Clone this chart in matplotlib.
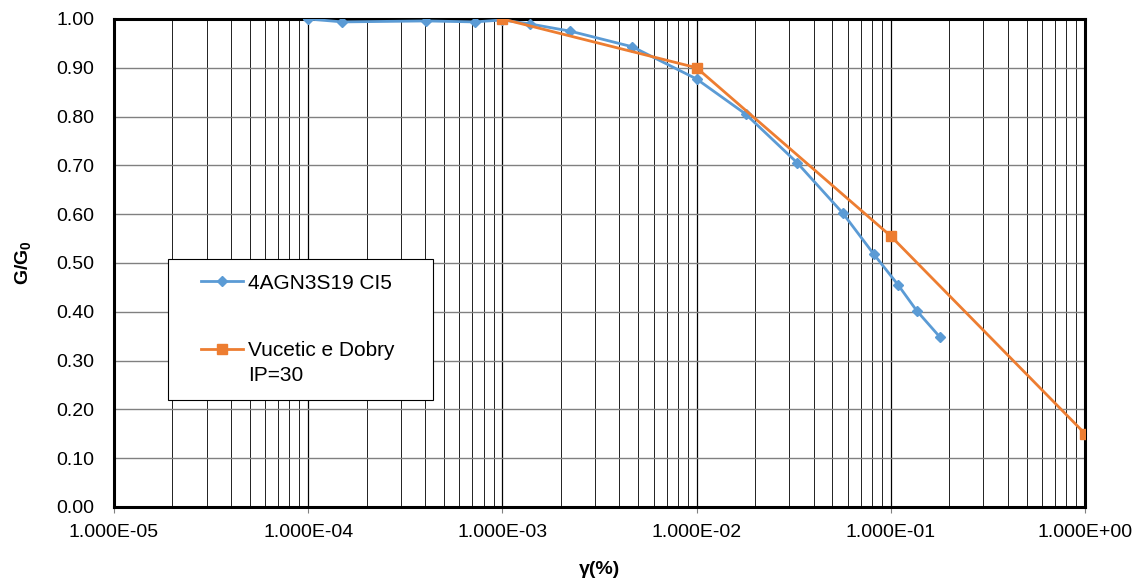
import numpy as np
import matplotlib.pyplot as plt
from matplotlib.ticker import LogLocator, FixedLocator, NullFormatter

# curva sperimentale (deformazione %, G/G0)
GAMMA_EXP = [1.0e-4, 1.5e-4, 4.05e-4, 7.2e-4, 1.0e-3, 1.38e-3, 2.24e-3, 4.67e-3,
             1.0e-2, 1.79e-2, 3.3e-2, 5.66e-2, 8.17e-2, 0.109, 0.136, 0.179]
GG0_EXP = [1.000, 0.994, 0.996, 0.994, 0.998, 0.990, 0.975, 0.943,
           0.877, 0.805, 0.705, 0.602, 0.518, 0.455, 0.402, 0.348]

# curva di riferimento Vucetic e Dobry, IP=30
GAMMA_VD = [1.0e-3, 1.0e-2, 1.0e-1, 1.0]
GG0_VD = [1.00, 0.90, 0.555, 0.15]

LABEL_EXP = "4AGN3S19 CI5"
LABEL_VD = "Vucetic e Dobry\nIP=30"

X_TICKS = [1e-5, 1e-4, 1e-3, 1e-2, 1e-1, 1e0]
X_TICK_LABELS = ["1.000E-05", "1.000E-04", "1.000E-03", "1.000E-02", "1.000E-01", "1.000E+00"]
Y_TICKS = np.arange(0, 1.01, 0.1)

BLUE = "#5B9BD5"
ORANGE = "#ED7D31"

plt.rcParams["font.family"] = ["Liberation Sans", "DejaVu Sans"]
plt.rcParams["mathtext.fontset"] = "custom"
plt.rcParams["mathtext.rm"] = "Liberation Sans"
plt.rcParams["mathtext.bf"] = "Liberation Sans:bold"

fig = plt.figure(figsize=(11.43, 5.84), dpi=100)
ax = fig.add_axes([0.0997, 0.132, 0.8496, 0.8355])

ax.plot(GAMMA_EXP, GG0_EXP, color=BLUE, lw=2.0, marker="D", ms=5.5,
        label=LABEL_EXP, zorder=3)
ax.plot(GAMMA_VD, GG0_VD, color=ORANGE, lw=2.0, marker="s", ms=7,
        label=LABEL_VD, zorder=4)

ax.set_xscale("log")
ax.set_xlim(1e-5, 1e0)
ax.set_ylim(0, 1.0)

ax.xaxis.set_major_locator(FixedLocator(X_TICKS))
ax.set_xticklabels(X_TICK_LABELS, fontsize=14)
ax.xaxis.set_minor_locator(LogLocator(base=10, subs=np.arange(2, 10)))
ax.xaxis.set_minor_formatter(NullFormatter())
ax.set_yticks(Y_TICKS)
ax.set_yticklabels([f"{v:.2f}" for v in Y_TICKS], fontsize=14)

ax.grid(which="major", axis="x", color="black", lw=0.9)
ax.grid(which="minor", axis="x", color="#202020", lw=0.7)
ax.grid(which="major", axis="y", color="#808080", lw=1.0)

ax.tick_params(axis="both", which="both", length=0)
ax.tick_params(axis="y", pad=14)
ax.tick_params(axis="x", which="major", length=4, color="#808080", pad=8)
for s in ax.spines.values():
    s.set_linewidth(2.2)
    s.set_color("black")

ax.set_xlabel("γ(%)", fontsize=14, fontweight="bold", labelpad=15)
ax.set_ylabel(r"G/G$_\mathbf{0}$", fontsize=14, fontweight="bold", labelpad=16)

leg = ax.legend(loc="upper left", bbox_to_anchor=(0.0556, 0.2275, 0.2725, 0.2805),
                mode="expand", fontsize=15, frameon=True, fancybox=False,
                edgecolor="black", framealpha=1, handlelength=2.9,
                handletextpad=0.25, labelspacing=2.3, borderpad=0.7,
                borderaxespad=0)
leg.get_frame().set_linewidth(0.8)
leg.get_texts()[1].set_linespacing(1.45)

# legend handles: start the line a bit inside, and keep the second
# marker level with the first line of its two-line label
for i, h in enumerate(leg.legend_handles):
    xd = np.asarray(h.get_xdata(), dtype=float)
    h.set_xdata(np.linspace(xd[0] + 13.5, xd[-1], len(xd)))
    if i == 1:
        yd = np.asarray(h.get_ydata(), dtype=float)
        h.set_ydata(yd + 10.0)

fig.savefig("out.png", dpi=100)
